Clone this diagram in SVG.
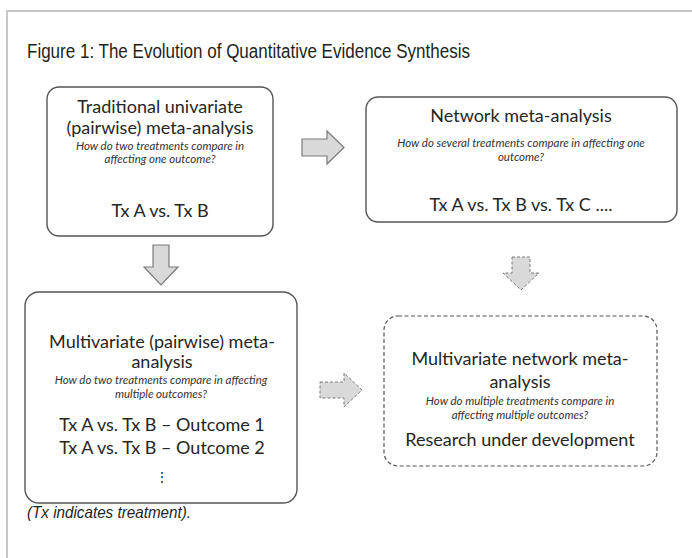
<svg xmlns="http://www.w3.org/2000/svg" width="692" height="558" viewBox="0 0 692 558">
<style>
.frame{fill:none;stroke:#c8c8c8;stroke-width:2}
.title{font-family:"Liberation Sans",Arial,sans-serif;font-size:20px;fill:#231f20}
.foot{font-family:"Liberation Sans",Arial,sans-serif;font-size:17px;font-style:italic;fill:#231f20}
.box{fill:#fff;stroke:#555;stroke-width:1.4}
.dbox{fill:#fff;stroke:#555;stroke-width:1.2;stroke-dasharray:4 2.5}
.h{font-family:Lato,"Liberation Sans",sans-serif;font-size:18px;fill:#262626;text-anchor:middle}
.q{font-family:Lato,"Liberation Sans",sans-serif;font-size:11.5px;font-style:italic;fill:#333;text-anchor:middle}
.arr{fill:#d9d9d9;stroke:#7a7a7a;stroke-width:1.2;stroke-linejoin:miter}
.darr{fill:#d9d9d9;stroke:#7a7a7a;stroke-width:1;stroke-dasharray:3 2}
</style>
<path class="frame" d="M7,558 V11 H692"/>
<text class="title" x="27" y="58" textLength="443" lengthAdjust="spacingAndGlyphs">Figure 1: The Evolution of Quantitative Evidence Synthesis</text>

<g id="connectors">
<polygon class="arr" points="302,139 327,139 327,131 344,147.5 327,164 327,156 302,156"/>
<polygon class="arr" points="153,245 169,245 169,267 178,267 161,285 144,267 153,267"/>
<polygon class="darr" points="512,257 530,257 530,273 539,273 521,290 503,273 512,273"/>
<polygon class="darr" points="320,382 344,382 344,373 362,390 344,407 344,398 320,398"/>
</g>

<g id="node-traditional">
<rect class="box" x="47" y="87" width="226" height="149" rx="12"/>
<text class="h" x="160" y="113">Traditional univariate</text>
<text class="h" x="160" y="134">(pairwise) meta-analysis</text>
<text class="q" x="160" y="150">How do two treatments compare in</text>
<text class="q" x="160" y="163">affecting one outcome?</text>
<text class="h" x="160" y="217">Tx A vs. Tx B</text>
</g>

<g id="node-network">
<rect class="box" x="366" y="97" width="311" height="125" rx="12"/>
<text class="h" x="521" y="122">Network meta-analysis</text>
<text class="q" x="521" y="147">How do several treatments compare in affecting one</text>
<text class="q" x="521" y="161">outcome?</text>
<text class="h" x="521" y="211">Tx A vs. Tx B vs. Tx C ....</text>
</g>

<g id="node-multivariate-pairwise">
<rect class="box" x="25" y="292" width="272" height="211" rx="14"/>
<text class="h" x="162" y="348">Multivariate (pairwise) meta-</text>
<text class="h" x="162" y="368">analysis</text>
<text class="q" x="161" y="384">How do two treatments compare in affecting</text>
<text class="q" x="161" y="398">multiple outcomes?</text>
<text class="h" x="162" y="431">Tx A vs. Tx B – Outcome 1</text>
<text class="h" x="162" y="454">Tx A vs. Tx B – Outcome 2</text>
<text class="h" x="162" y="482" style="font-size:14px">⋮</text>
</g>

<g id="node-multivariate-network">
<rect class="dbox" x="384" y="316" width="273" height="150" rx="14"/>
<text class="h" x="520" y="365">Multivariate network meta-</text>
<text class="h" x="520" y="388">analysis</text>
<text class="q" x="520" y="405">How do multiple treatments compare in</text>
<text class="q" x="520" y="419">affecting multiple outcomes?</text>
<text class="h" x="520" y="446">Research under development</text>
</g>

<text class="foot" x="27" y="518" textLength="164" lengthAdjust="spacingAndGlyphs">(Tx indicates treatment).</text>
</svg>
